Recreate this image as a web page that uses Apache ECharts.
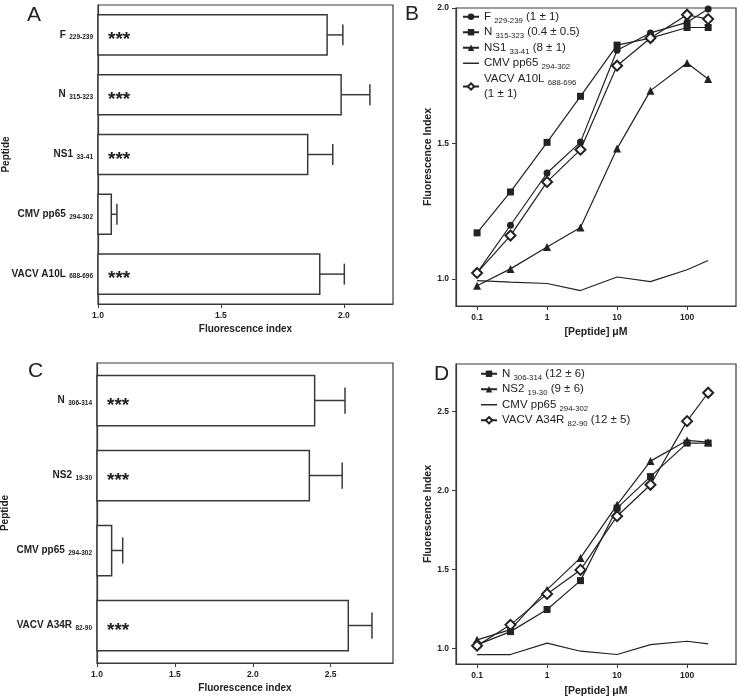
<!DOCTYPE html>
<html>
<head>
<meta charset="utf-8">
<script src="https://cdn.jsdelivr.net/npm/echarts@6/dist/echarts.min.js"></script>
<style>
  html, body { margin: 0; padding: 0; background: #fff; }
  #chart { width: 740px; height: 698px; }
</style>
</head>
<body>
<div id="chart"></div>
<script>
// ---- panel A: fluorescence index per peptide (bars, mean + SEM)
const peptidesA = ["F", "N", "NS1", "CMV pp65", "VACV A10L"];
const rangesA = ["229-239", "315-323", "33-41", "294-302", "688-696"];
const meanA = [1.932, 1.989, 1.853, 1.054, 1.902];
const semA = [0.064, 0.117, 0.102, 0.023, 0.100];
const starsA = ["***", "***", "***", "", "***"];
const ticksA = [1.0, 1.5, 2.0];

// ---- panel C
const peptidesC = ["N", "NS2", "CMV pp65", "VACV A34R"];
const rangesC = ["306-314", "19-30", "294-302", "82-90"];
const meanC = [2.397, 2.363, 1.094, 2.613];
const semC = [0.195, 0.211, 0.071, 0.152];
const starsC = ["***", "***", "", "***"];
const ticksC = [1.0, 1.5, 2.0, 2.5];

// ---- dose response, [Peptide] uM
const conc = [0.1, 0.3, 1, 3, 10, 30, 100, 200];
const concTicks = [0.1, 1, 10, 100];

// panel B
const fB    = [1.022, 1.198, 1.391, 1.505, 1.844, 1.908, 1.947, 1.996];
const nB    = [1.170, 1.321, 1.504, 1.674, 1.863, 1.889, 1.928, 1.928];
const ns1B  = [0.975, 1.037, 1.118, 1.190, 1.481, 1.695, 1.797, 1.738];
const cmvB  = [0.994, 0.988, 0.983, 0.957, 1.007, 0.990, 1.034, 1.068];
const vacvB = [1.022, 1.160, 1.358, 1.477, 1.787, 1.889, 1.975, 1.959];
const ticksB = [1.0, 1.5, 2.0];

// panel D
const nD    = [1.021, 1.105, 1.245, 1.428, 1.887, 2.087, 2.299, 2.299];
const ns2D  = [1.053, 1.118, 1.371, 1.572, 1.908, 2.185, 2.316, 2.305];
const cmvD  = [0.960, 0.960, 1.032, 0.981, 0.960, 1.023, 1.044, 1.027];
const vacvD = [1.016, 1.148, 1.344, 1.496, 1.836, 2.035, 2.438, 2.618];
const ticksD = [1.0, 1.5, 2.0, 2.5];

const legendLabels = {
  F_B: "F {s|229-239} (1 ± 1)",
  N_B: "N {s|315-323} (0.4 ± 0.5)",
  NS1_B: "NS1 {s|33-41} (8 ± 1)",
  CMV_B: "CMV pp65 {s|294-302}",
  VACV_B: "VACV A10L {s|688-696}\n(1 ± 1)",
  N_D: "N {s|306-314} (12 ± 6)",
  NS2_D: "NS2 {s|19-30} (9 ± 6)",
  CMV_D: "CMV pp65 {s|294-302}",
  VACV_D: "VACV A34R {s|82-90} (12 ± 5)"
};

const FONT = "'Liberation Sans', Arial, sans-serif";
const INK = "#222";
const FRAME = "#3a3a3a";
const LINE_ICON = "path://M0,0H100V9H0Z";

function pairs(ys){ return conc.map((c, i) => [c, ys[i]]); }

function barRows(means, sems){
  return means.map((m, i) => [m, i, sems[i]]);
}

// bars drawn from the axis minimum, with upper SEM whisker and significance stars
function barRenderer(base, starList){
  return function(params, api){
    const val = api.value(0), cat = api.value(1), sem = api.value(2);
    const stars = starList[params.dataIndex];
    const p0 = api.coord([base, cat]);
    const p1 = api.coord([val, cat]);
    const pe = api.coord([val + sem, cat]);
    const band = api.size([0, 1])[1];
    const h = band * 0.67;
    const cap = band * 0.175;
    const kids = [
      { type: "rect", shape: { x: p0[0], y: p1[1] - h / 2, width: p1[0] - p0[0], height: h },
        style: { fill: "#fff", stroke: FRAME, lineWidth: 1.5 } },
      { type: "line", shape: { x1: p1[0], y1: p1[1], x2: pe[0], y2: pe[1] },
        style: { stroke: FRAME, lineWidth: 1.5 } },
      { type: "line", shape: { x1: pe[0], y1: pe[1] - cap, x2: pe[0], y2: pe[1] + cap },
        style: { stroke: FRAME, lineWidth: 1.5 } }
    ];
    if (stars) {
      kids.push({ type: "text", x: p0[0] + 10, y: p1[1] + 5,
        style: { text: stars, fill: INK, font: "bold 19px " + FONT, verticalAlign: "middle", align: "left" } });
    }
    return { type: "group", children: kids };
  };
}

function catAxis(gridIndex, names, ranges){
  return {
    type: "category", gridIndex, data: names, inverse: true,
    name: "Peptide", nameLocation: "middle", nameGap: 87, nameRotate: 90, nameMoveOverlap: false,
    nameTextStyle: { fontFamily: FONT, fontWeight: "bold", fontSize: 10, color: INK },
    axisLine: { lineStyle: { color: FRAME, width: 1.2 } },
    axisTick: { alignWithLabel: true, length: 4, lineStyle: { color: FRAME } },
    axisLabel: {
      margin: 5, color: INK,
      formatter: (v, i) => "{n|" + v + "} {s|" + ranges[i] + "}",
      rich: {
        n: { fontFamily: FONT, fontWeight: "bold", fontSize: 10, color: INK, lineHeight: 12 },
        s: { fontFamily: FONT, fontWeight: "bold", fontSize: 6.5, color: INK, verticalAlign: "bottom", lineHeight: 8 }
      }
    }
  };
}

function valAxis(gridIndex, min, max, ticks, name, nameGap, extra){
  return Object.assign({
    type: "value", gridIndex, min, max,
    name, nameLocation: "middle", nameGap, nameMoveOverlap: false,
    nameTextStyle: { fontFamily: FONT, fontWeight: "bold", fontSize: 10, color: INK },
    axisLine: { show: true, lineStyle: { color: FRAME, width: 1.2 } },
    axisTick: { show: true, length: 4, customValues: ticks, lineStyle: { color: FRAME } },
    axisLabel: { customValues: ticks, margin: 7, color: INK, fontFamily: FONT, fontWeight: "bold", fontSize: 8.5,
      formatter: v => v.toFixed(1) },
    splitLine: { show: false }
  }, extra || {});
}

function concAxis(gridIndex, nameGap){
  return {
    type: "log", logBase: 10, gridIndex, min: 0.05, max: 500,
    name: "[Peptide] μM", nameLocation: "middle", nameGap, nameMoveOverlap: false,
    nameTextStyle: { fontFamily: FONT, fontWeight: "bold", fontSize: 10.5, color: INK },
    axisLine: { show: true, lineStyle: { color: FRAME, width: 1.2 } },
    axisTick: { show: true, length: 4, customValues: concTicks, lineStyle: { color: FRAME } },
    axisLabel: { customValues: concTicks, margin: 7, color: INK, fontFamily: FONT, fontWeight: "bold", fontSize: 8.5,
      formatter: v => (v < 1 ? v.toFixed(1) : String(Math.round(v))) },
    splitLine: { show: false }
  };
}

function curve(name, ys, xi, symbol, size, hollow){
  return {
    type: "line", name, xAxisIndex: xi, yAxisIndex: xi, data: pairs(ys),
    symbol: symbol || "none", symbolSize: size || 0, showSymbol: !!symbol,
    lineStyle: { color: INK, width: 1.2 },
    itemStyle: hollow ? { color: "#fff", borderColor: INK, borderWidth: 2 } : { color: INK },
    z: hollow ? 4 : 3, animation: false
  };
}

const legendCommon = {
  orient: "vertical", padding: 0, itemGap: 0, itemWidth: 16, itemHeight: 8,
  selectedMode: false,
  formatter: n => legendLabels[n],
  textStyle: {
    fontFamily: FONT, fontSize: 11.5, color: INK, lineHeight: 15.5,
    rich: { s: { fontFamily: FONT, fontSize: 7.8, color: INK, verticalAlign: "bottom", lineHeight: 11 } }
  }
};

const grids = [
  { left: 98, top: 5, width: 295, height: 299 },
  { left: 456, top: 8, width: 280, height: 298 },
  { left: 97, top: 363, width: 296, height: 300 },
  { left: 456, top: 364, width: 280, height: 300 }
].map(g => Object.assign({ show: true, borderColor: FRAME, borderWidth: 1.2, backgroundColor: "#fff",
  containLabel: false, outerBoundsMode: "none" }, g));

const chart = echarts.init(document.getElementById("chart"), null, { renderer: "canvas" });

chart.setOption({
  animation: false,
  backgroundColor: "#fff",
  grid: grids,
  xAxis: [
    valAxis(0, 1.0, 2.2, ticksA, "Fluorescence index", 20),
    concAxis(1, 21),
    valAxis(2, 1.0, 2.9, ticksC, "Fluorescence index", 20),
    concAxis(3, 22)
  ],
  yAxis: [
    catAxis(0, peptidesA, rangesA),
    valAxis(1, 0.9, 2.0, ticksB, "Fluorescence Index", 22, { nameRotate: 90, nameTextStyle: { fontFamily: FONT, fontWeight: "bold", fontSize: 10.5, color: INK } }),
    catAxis(2, peptidesC, rangesC),
    valAxis(3, 0.9, 2.8, ticksD, "Fluorescence Index", 22, { nameRotate: 90, nameTextStyle: { fontFamily: FONT, fontWeight: "bold", fontSize: 10.5, color: INK } })
  ],
  legend: [
    Object.assign({ left: 462, top: 9,
      data: ["F_B", "N_B", "NS1_B", { name: "CMV_B", icon: LINE_ICON }, "VACV_B"] }, legendCommon),
    Object.assign({ left: 480, top: 366,
      data: ["N_D", "NS2_D", { name: "CMV_D", icon: LINE_ICON }, "VACV_D"] }, legendCommon)
  ],
  graphic: [
    { type: "text", left: 27, top: 5, style: { text: "A", font: "21px " + FONT, fill: INK } },
    { type: "text", left: 405, top: 4, style: { text: "B", font: "21px " + FONT, fill: INK } },
    { type: "text", left: 28, top: 361, style: { text: "C", font: "21px " + FONT, fill: INK } },
    { type: "text", left: 434, top: 364, style: { text: "D", font: "21px " + FONT, fill: INK } }
  ],
  series: [
    { type: "custom", xAxisIndex: 0, yAxisIndex: 0, data: barRows(meanA, semA),
      renderItem: barRenderer(1.0, starsA) },
    { type: "custom", xAxisIndex: 2, yAxisIndex: 2, data: barRows(meanC, semC),
      renderItem: barRenderer(1.0, starsC) },

    curve("CMV_B", cmvB, 1),
    curve("NS1_B", ns1B, 1, "triangle", 8),
    curve("N_B", nB, 1, "rect", 7),
    curve("F_B", fB, 1, "circle", 7),
    curve("VACV_B", vacvB, 1, "diamond", 10, true),

    curve("CMV_D", cmvD, 3),
    curve("NS2_D", ns2D, 3, "triangle", 8),
    curve("N_D", nD, 3, "rect", 7),
    curve("VACV_D", vacvD, 3, "diamond", 10, true)
  ]
});
</script>
</body>
</html>
